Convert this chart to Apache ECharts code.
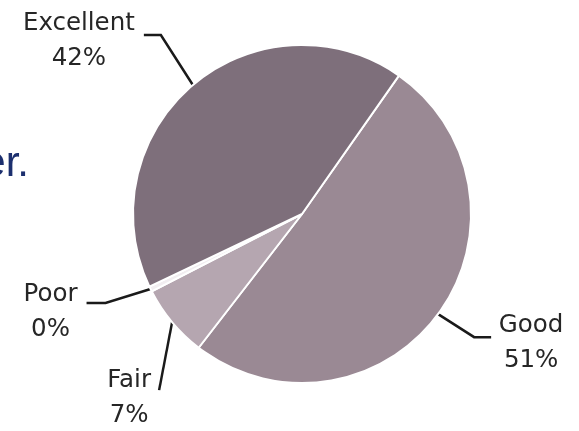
<!DOCTYPE html>
<html><head><meta charset="utf-8">
<script src="https://cdn.jsdelivr.net/npm/echarts@6/dist/echarts.min.js"></script>
<style>html,body{margin:0;padding:0;background:#fff}#c{width:579px;height:431px}</style>
</head><body><div id="c"></div>
<script>
// ---- data ----
const categories = ['Good', 'Fair', 'Poor', 'Excellent'];
const values = [51, 7, 0.5, 42];
const percentLabels = ['51%', '7%', '0%', '42%'];

// ---- styles ----
const colors = ['#9a8994', '#b5a6b0', '#f2eef1', '#7e6f7b'];
// leader geometry per slice: [elbowDx, elbowDy, tailDx, labelDx, labelDy]
const leaders = [
  [36, 23, 17, 40, -29.5],
  [-13, 68, 0, -30, -26.5],
  [-45, 14, -19, -36, -25.5],
  [-32, -50, -17, -65, -28.5]
];

const chart = echarts.init(document.getElementById('c'), null, {renderer: 'canvas'});
chart.setOption({
  animation: false,
  backgroundColor: '#ffffff',
  graphic: [{
    type: 'text', right: 550, top: 143,
    style: {text: 'er.', fill: '#1c2f6e', font: '42px "Liberation Sans"'}
  }],
  series: [{
    type: 'pie',
    center: [302, 214],
    radius: 169,
    startAngle: 55,
    clockwise: true,
    avoidLabelOverlap: false,
    itemStyle: {borderColor: '#ffffff', borderWidth: 2},
    label: {
      show: true, position: 'outside',
      color: '#262626', fontFamily: 'DejaVu Sans', fontSize: 24.5, lineHeight: 35,
      formatter: p => p.name + '\n' + percentLabels[p.dataIndex]
    },
    labelLine: {show: true, length: 40, length2: 15, lineStyle: {color: '#1a1a1a', width: 2.5}},
    labelLayout: function (params) {
      const i = params.dataIndex;
      const pts = params.labelLinePoints;
      if (!pts) return {};
      const s = pts[0];
      const g = leaders[i];
      const e = [s[0] + g[0], s[1] + g[1]];
      const t = [e[0] + g[2], e[1]];
      return {
        x: t[0] + g[3], y: t[1] + g[4],
        align: 'center', verticalAlign: 'top',
        labelLinePoints: [s, e, t]
      };
    },
    data: categories.map((c, i) => ({name: c, value: values[i], itemStyle: {color: colors[i]}}))
  }]
});
</script>
</body></html>
